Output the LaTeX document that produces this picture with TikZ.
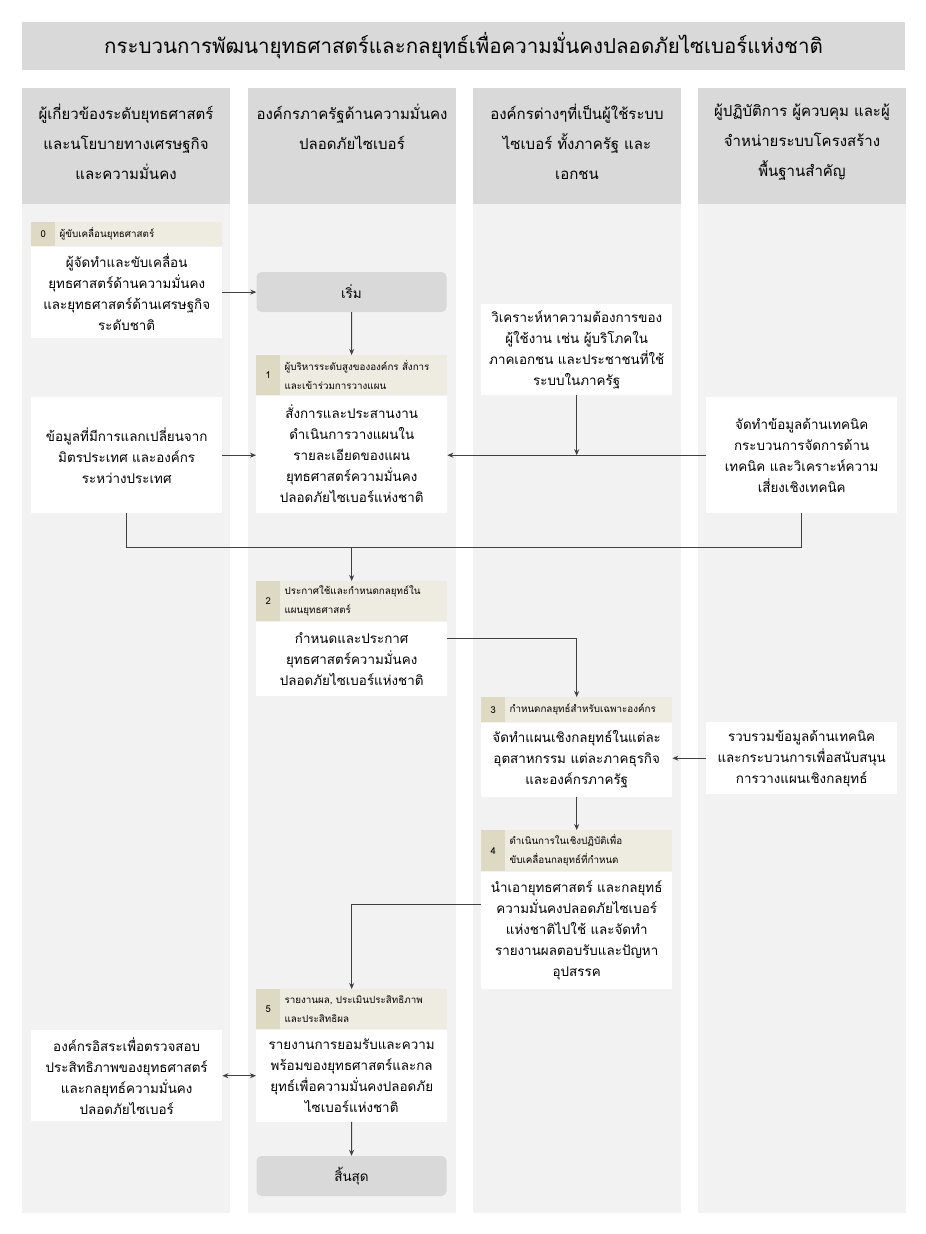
\documentclass[tikz,border=0pt]{standalone}
\usepackage{fontspec}
\newfontfamily\thaifont[Script=Thai]{Loma}
\usetikzlibrary{positioning,arrows.meta,calc}
\definecolor{headgray}{HTML}{D9D9D9}
\definecolor{lanegray}{HTML}{F2F2F2}
\definecolor{barbeige}{HTML}{EEECE1}
\definecolor{numbeige}{HTML}{DDD9C3}
\definecolor{linegray}{HTML}{404040}

\tikzset{
  titlebar/.style={fill=headgray, minimum width=883, minimum height=48, inner sep=0pt, font=\thaifont\fontsize{20.5}{24}\selectfont},
  lanetitle/.style={anchor=north, text width=204, align=center, inner sep=0pt, font=\thaifont\fontsize{15}{30}\selectfont},
  term/.style={fill=headgray, rounded corners=5pt, minimum width=190, minimum height=40, inner sep=0pt, font=\thaifont\fontsize{13.5}{20}\selectfont},
  stepbar/.style={fill=barbeige, anchor=north west, minimum width=191, inner sep=0pt},
  numcell/.style={fill=numbeige, anchor=north west, minimum width=24, inner sep=0pt, font=\thaifont\fontsize{9.5}{12}\selectfont},
  barlabel/.style={anchor=west, align=left, inner sep=0pt, font=\thaifont\fontsize{9.8}{19}\selectfont},
  bodybox/.style={fill=white, anchor=north west, text width=187, inner xsep=2, inner ysep=0pt, align=center, font=\thaifont\fontsize{13.4}{21}\selectfont},
  arr/.style={draw=linegray, line width=0.9pt, -{Stealth[length=6pt,width=5pt]}},
  link/.style={draw=linegray, line width=0.9pt}
}

\begin{document}
\begin{tikzpicture}[x=1pt,y=-1pt]
\useasboundingbox (0,0) rectangle (926,1234);
% title
\node[titlebar] (title) at (463.5,46) {กระบวนการพัฒนายุทธศาสตร์และกลยุทธ์เพื่อความมั่นคงปลอดภัยไซเบอร์แห่งชาติ};
% lanes
\foreach \x in {22,248,473,698} {
  \fill[headgray] (\x,88) rectangle ++(208,116);
  \fill[lanegray] (\x,204) rectangle ++(208,1009);
}
\node[lanetitle] (hd1) at (126,104) {ผู้เกี่ยวข้องระดับยุทธศาสตร์\\และนโยบายทางเศรษฐกิจ\\และความมั่นคง};
\node[lanetitle] (hd2) at (352,104) {องค์กรภาครัฐด้านความมั่นคง\\ปลอดภัยไซเบอร์};
\node[lanetitle] (hd3) at (577,104) {องค์กรต่างๆที่เป็นผู้ใช้ระบบ\\ไซเบอร์ ทั้งภาครัฐ และ\\เอกชน};
\node[lanetitle] (hd4) at (802,104) {ผู้ปฏิบัติการ ผู้ควบคุม และผู้\\จำหน่ายระบบโครงสร้าง\\พื้นฐานสำคัญ};

% step 0
\node[stepbar, minimum height=24] (bar0) at (31,222) {};
\node[numcell, minimum height=24] (n0) at (bar0.north west) {0};
\node[barlabel] (t0) at ($(n0.east)+(4,0)$) {ผู้ขับเคลื่อนยุทธศาสตร์};
\node[bodybox, minimum height=91] (b0) at (bar0.south west) {ผู้จัดทำและขับเคลื่อน\\ยุทธศาสตร์ด้านความมั่นคง\\และยุทธศาสตร์ด้านเศรษฐกิจ\\ระดับชาติ};
\node[term] (start) at (351.5,292) {เริ่ม};

% step 1 and its inputs
\node[stepbar, minimum height=40] (bar1) at (256,355) {};
\node[numcell, minimum height=40] (n1) at (bar1.north west) {1};
\node[barlabel] (t1) at ($(n1.east)+(4,0)$) {ผู้บริหารระดับสูงขององค์กร สั่งการ\\และเข้าร่วมการวางแผน};
\node[bodybox, minimum height=117] (b1) at (bar1.south west) {สั่งการและประสานงาน\\ดำเนินการวางแผนใน\\รายละเอียดของแผน\\ยุทธศาสตร์ความมั่นคง\\ปลอดภัยไซเบอร์แห่งชาติ};
\node[bodybox, minimum height=116] (intl) at (31,397) {ข้อมูลที่มีการแลกเปลี่ยนจาก\\มิตรประเทศ และองค์กร\\ระหว่างประเทศ};
\node[bodybox, minimum height=91] (needs) at (481,304) {วิเคราะห์หาความต้องการของ\\ผู้ใช้งาน เช่น ผู้บริโภคใน\\ภาคเอกชน และประชาชนที่ใช้\\ระบบในภาครัฐ};
\node[bodybox, minimum height=116] (tech) at (706,397) {จัดทำข้อมูลด้านเทคนิค\\กระบวนการจัดการด้าน\\เทคนิค และวิเคราะห์ความ\\เสี่ยงเชิงเทคนิค};

% step 2
\node[stepbar, minimum height=40] (bar2) at (256,581) {};
\node[numcell, minimum height=40] (n2) at (bar2.north west) {2};
\node[barlabel] (t2) at ($(n2.east)+(4,0)$) {ประกาศใช้และกำหนดกลยุทธ์ใน\\แผนยุทธศาสตร์};
\node[bodybox, minimum height=74] (b2) at (bar2.south west) {กำหนดและประกาศ\\ยุทธศาสตร์ความมั่นคง\\ปลอดภัยไซเบอร์แห่งชาติ};

% step 3
\node[stepbar, minimum height=25] (bar3) at (481,697) {};
\node[numcell, minimum height=25] (n3) at (bar3.north west) {3};
\node[barlabel] (t3) at ($(n3.east)+(4,0)$) {กำหนดกลยุทธ์สำหรับเฉพาะองค์กร};
\node[bodybox, minimum height=74] (b3) at (bar3.south west) {จัดทำแผนเชิงกลยุทธ์ในแต่ละ\\อุตสาหกรรม แต่ละภาคธุรกิจ\\และองค์กรภาครัฐ};
\node[bodybox, minimum height=72] (gather) at (706,722) {รวบรวมข้อมูลด้านเทคนิค\\และกระบวนการเพื่อสนับสนุน\\การวางแผนเชิงกลยุทธ์};

% step 4
\node[stepbar, minimum height=41] (bar4) at (481,830) {};
\node[numcell, minimum height=41] (n4) at (bar4.north west) {4};
\node[barlabel] (t4) at ($(n4.east)+(4,0)$) {ดำเนินการในเชิงปฏิบัติเพื่อ\\ขับเคลื่อนกลยุทธ์ที่กำหนด};
\node[bodybox, minimum height=117] (b4) at (bar4.south west) {นำเอายุทธศาสตร์ และกลยุทธ์\\ความมั่นคงปลอดภัยไซเบอร์\\แห่งชาติไปใช้ และจัดทำ\\รายงานผลตอบรับและปัญหา\\อุปสรรค};

% step 5
\node[stepbar, minimum height=40] (bar5) at (256,989) {};
\node[numcell, minimum height=40] (n5) at (bar5.north west) {5};
\node[barlabel] (t5) at ($(n5.east)+(4,0)$) {รายงานผล, ประเมินประสิทธิภาพ\\และประสิทธิผล};
\node[bodybox, minimum height=92] (b5) at (bar5.south west) {รายงานการยอมรับและความ\\พร้อมของยุทธศาสตร์และกล\\ยุทธ์เพื่อความมั่นคงปลอดภัย\\ไซเบอร์แห่งชาติ};
\node[bodybox, minimum height=91] (audit) at (31,1030) {องค์กรอิสระเพื่อตรวจสอบ\\ประสิทธิภาพของยุทธศาสตร์\\และกลยุทธ์ความมั่นคง\\ปลอดภัยไซเบอร์};
\node[term] (stop) at (351.5,1176) {สิ้นสุด};

% connectors
\draw[arr] (b0.east) -- (b0.east -| start.west);
\draw[arr] (start) -- (bar1);
\draw[arr] (intl.east) -- (intl.east -| b1.west);
\draw[arr] (needs.south) -- (needs.south |- tech.west);
\draw[arr] (tech.west) -- (tech.west -| b1.east);
\draw[link] (intl.south) -- ++(0,34) coordinate (merge) -| (tech.south);
\draw[arr] (merge -| b1) -- (bar2);
\draw[arr] ($(b2.north east)+(0,17)$) -| (bar3);
\draw[arr] (gather.west) -- (gather.west -| b3.east);
\draw[arr] (b3) -- (bar4);
\draw[arr] ($(b4.north west)+(0,33)$) -| (bar5);
\draw[arr, {Stealth[length=6pt,width=5pt]}-{Stealth[length=6pt,width=5pt]}] (audit.east) -- (audit.east -| b5.west);
\draw[arr] (b5) -- (stop);
\end{tikzpicture}
\end{document}
